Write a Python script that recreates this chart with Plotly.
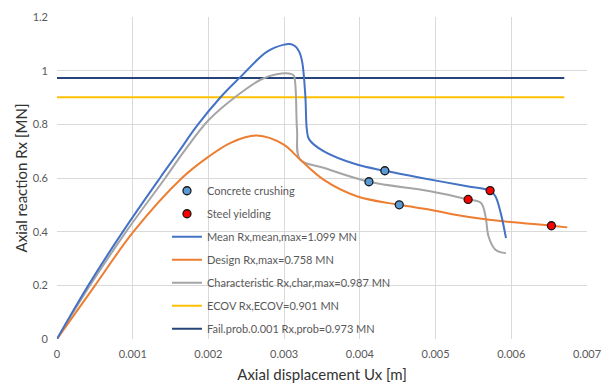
import plotly.graph_objects as go

# ---- data ----
mean_x = [0, 0.000414, 0.00087, 0.00136, 0.00160, 0.00185, 0.00216, 0.00241, 0.00277,
          0.00300, 0.00308, 0.00315, 0.00320, 0.00324, 0.00328, 0.00330, 0.00333, 0.00352,
          0.00396, 0.00433, 0.0048, 0.00540, 0.00572, 0.00579, 0.00586, 0.00593]
mean_y = [0, 0.2, 0.4, 0.6, 0.695, 0.795, 0.901, 0.973, 1.070,
          1.097, 1.099, 1.09, 1.07, 1.03, 0.906, 0.78, 0.744, 0.700,
          0.650, 0.627, 0.601, 0.57, 0.553, 0.532, 0.47, 0.376]

design_x = [0, 0.000503, 0.00101, 0.00165, 0.00198, 0.0023, 0.00264, 0.00299, 0.00321,
            0.00352, 0.00396, 0.00452, 0.00493, 0.00524, 0.00568, 0.00653, 0.00674]
design_y = [0, 0.2, 0.4, 0.6, 0.675, 0.732, 0.758, 0.725, 0.669,
            0.594, 0.532, 0.500, 0.482, 0.464, 0.445, 0.422, 0.416]

char_x = [0, 0.000437, 0.000913, 0.00143, 0.00168, 0.0020, 0.00235, 0.00270, 0.0029,
          0.0031, 0.00313, 0.00317, 0.00321, 0.00352, 0.00412, 0.00493, 0.00543, 0.0056,
          0.00566, 0.0057, 0.00579, 0.00593]
char_y = [0, 0.2, 0.4, 0.6, 0.7, 0.815, 0.901, 0.968, 0.987,
          0.987, 0.98, 0.78, 0.669, 0.638, 0.586, 0.551, 0.520, 0.507,
          0.457, 0.382, 0.333, 0.320]

ecov_x = [0, 0.0067]
ecov_y = [0.901, 0.901]
fail_x = [0, 0.0067]
fail_y = [0.973, 0.973]

crush_x = [0.00433, 0.00412, 0.00452]
crush_y = [0.627, 0.586, 0.500]
yield_x = [0.00572, 0.00543, 0.00653]
yield_y = [0.553, 0.520, 0.422]

x_ticks = [0, 0.001, 0.002, 0.003, 0.004, 0.005, 0.006, 0.007]
x_labels = ["0", "0.001", "0.002", "0.003", "0.004", "0.005", "0.006", "0.007"]
y_ticks = [0, 0.2, 0.4, 0.6, 0.8, 1.0, 1.2]
y_labels = ["0", "0.2", "0.4", "0.6", "0.8", "1", "1.2"]

FONT = "Lato"
fig = go.Figure()

def line(x, y, name, color, rank, smooth=1.0):
    fig.add_trace(go.Scatter(x=x, y=y, mode="lines", name=name, legendrank=rank,
                             legendgroup=name,
                             line=dict(color=color, width=2, shape="spline", smoothing=smooth)))

line(ecov_x, ecov_y, "ECOV Rx,ECOV=0.901 MN", "#FFC000", 6)
line(fail_x, fail_y, "Fail.prob.0.001 Rx,prob=0.973 MN", "#264478", 7)
line(char_x, char_y, "Characteristic Rx,char,max=0.987 MN", "#A5A5A5", 5)
line(design_x, design_y, "Design Rx,max=0.758 MN", "#ED7D31", 4)
line(mean_x, mean_y, "Mean Rx,mean,max=1.099 MN", "#4472C4", 3)

fig.add_trace(go.Scatter(x=crush_x, y=crush_y, mode="markers", name="Concrete crushing",
                         legendrank=1, legendgroup="cc",
                         marker=dict(color="#5B9BD5", size=8, line=dict(color="#1a1a1a", width=1.3))))
fig.add_trace(go.Scatter(x=yield_x, y=yield_y, mode="markers", name="Steel yielding",
                         legendrank=2, legendgroup="sy",
                         marker=dict(color="#FF0000", size=8, line=dict(color="#1a1a1a", width=1.3))))

fig.update_layout(
    width=606, height=385,
    margin=dict(l=57, r=19, t=17, b=46),
    paper_bgcolor="white", plot_bgcolor="white",
    font=dict(family=FONT, color="#595959", size=11),
    legend=dict(x=0.2075, y=0.5055, xanchor="left", yanchor="top",
                bgcolor="rgba(0,0,0,0)", tracegroupgap=4,
                font=dict(family=FONT, size=11, color="#595959")),
    showlegend=True,
)
fig.update_xaxes(range=[0, 0.007], tickvals=x_ticks, ticktext=x_labels,
                 showgrid=True, gridcolor="#D9D9D9", gridwidth=1, automargin=False,
                 zeroline=False, showline=False, ticks="", ticklabelstandoff=7,
                 title=dict(text="Axial displacement Ux [m]",
                            font=dict(family=FONT, size=15, color="#333333"), standoff=10))
fig.update_yaxes(range=[0, 1.2], tickvals=y_ticks, ticktext=y_labels,
                 showgrid=True, gridcolor="#D9D9D9", gridwidth=1, automargin=False,
                 zeroline=False, showline=False, ticks="", ticklabelstandoff=8,
                 title=dict(text="Axial reaction Rx [MN]",
                            font=dict(family=FONT, size=15, color="#333333"), standoff=1))

fig.write_html("out.html")
